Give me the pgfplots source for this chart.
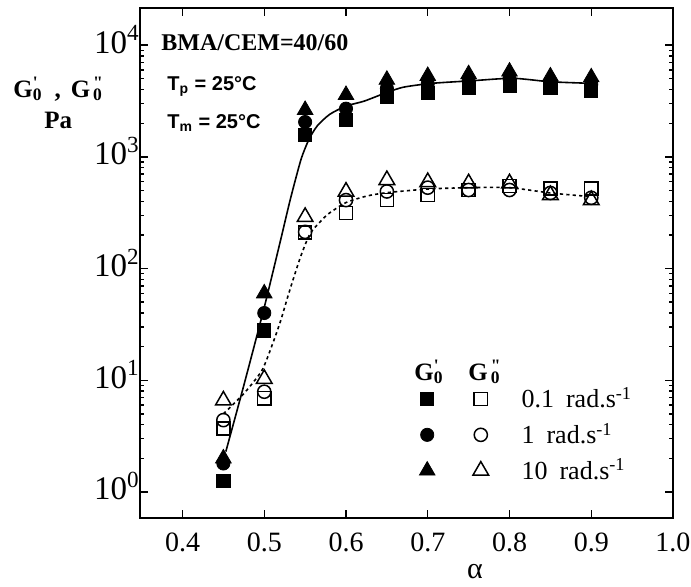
\documentclass[border=0pt]{standalone}
\usepackage{pgfplots}
\pgfplotsset{compat=1.18}
\usepackage{fontspec}
\setmainfont{Liberation Serif}
\newfontfamily\arialfont{Liberation Sans}
\newcommand{\Gone}{G\rlap{\textsuperscript{\textquotesingle}}\textsubscript{0}}
\newcommand{\Gtwo}{G\rlap{\textsuperscript{\,\textquotedbl}}\textsubscript{\,0}}

\pgfplotstableread{
a    Gp01   Gp1    Gp10   Gpp01  Gpp1  Gpp10
0.45 1.25   1.8    2.0    3.7    4.4   6.6
0.50 28     40     60     6.9    7.9   10.3
0.55 1570   2050   2630   210    213   290
0.60 2150   2700   3580   315    410   488
0.65 3450   4100   4900   410    490   620
0.70 3750   4500   5300   455    530   595
0.75 4150   4800   5500   505    505   580
0.80 4300   5050   5800   550    505   580
0.85 4150   4650   5250   520    475   455
0.90 3900   4450   5150   520    430   410
}\data

\begin{document}
\begin{tikzpicture}
\useasboundingbox (0,0) rectangle (345.5pt,293pt);
\begin{axis}[
  at={(70pt,34pt)}, anchor=south west,
  scale only axis, width=266.5pt, height=255pt,
  ymode=log,
  xmin=0.348, xmax=1.0, ymin=0.585, ymax=21500,
  xtick={0.4,0.5,0.6,0.7,0.8,0.9,1.0},
  xticklabels={0.4,0.5,0.6,0.7,0.8,0.9,1.0},
  ytick={1,10,100,1000,10000},
  yticklabels={10\textsuperscript{0},10\textsuperscript{1},10\textsuperscript{2},10\textsuperscript{3},10\textsuperscript{4}},
  tick align=inside,
  major tick length=4pt, minor tick length=2pt,
  axis line style={line width=1pt},
  every tick/.append style={black, line width=0.7pt},
  xticklabel style={font=\fontsize{14}{14}\selectfont, inner sep=0pt, yshift=-7pt},
  yticklabel style={font=\fontsize{16.5}{16.5}\selectfont, anchor=base east, inner sep=0pt, yshift=-4pt},
  legend columns=2,
  legend cell align=left,
  legend style={draw=none, fill=none, at={(0.5235,0.265)}, anchor=north west,
    inner sep=0pt, row sep=2pt, font=\fontsize{13}{14}\selectfont,
    nodes={inner sep=2pt},
    /tikz/every even column/.append style={column sep=15pt}},
]
\addplot[black, line width=0.8pt, smooth, tension=0.4, forget plot] coordinates {
(0.453,2.3) (0.475,9) (0.5,45) (0.52,180) (0.532,420) (0.545,950) (0.555,1450)
(0.565,1900) (0.58,2400) (0.6,2850) (0.622,3150) (0.647,3700) (0.67,4200)
(0.705,4550) (0.754,4800) (0.804,5050) (0.85,4700) (0.9,4550)};
\addplot[black, line width=0.8pt, dash pattern=on 1.6pt off 1.6pt, smooth, tension=0.4, forget plot] coordinates {
(0.45,5.0) (0.475,7.6) (0.497,12.2) (0.51,21) (0.52,34) (0.53,60) (0.544,125)
(0.556,205) (0.57,270) (0.58,315) (0.6,390) (0.625,445) (0.65,478) (0.7,515)
(0.75,530) (0.8,530) (0.85,475) (0.9,440)};

\addplot[only marks, mark=square*, mark size=3.3pt, black, mark options={fill=black}] table[x=a,y=Gp01] {\data};
\addlegendentry{}
\addplot[only marks, mark=square, mark size=3.3pt, black, mark options={line width=0.75pt}] table[x=a,y=Gpp01] {\data};
\addlegendentry{\hspace*{14.5pt}0.1\hspace{6pt}rad.s\textsuperscript{-1}}
\addplot[only marks, mark=*, mark size=3.3pt, black, mark options={fill=black}] table[x=a,y=Gp1] {\data};
\addlegendentry{}
\addplot[only marks, mark=o, mark size=3.3pt, black, mark options={line width=0.75pt}] table[x=a,y=Gpp1] {\data};
\addlegendentry{\hspace*{14.5pt}1\hspace{6pt}rad.s\textsuperscript{-1}}
\addplot[only marks, mark=triangle*, mark size=4.5pt, black, mark options={fill=black}] table[x=a,y=Gp10] {\data};
\addlegendentry{}
\addplot[only marks, mark=triangle, mark size=4.5pt, black, mark options={line width=0.75pt}] table[x=a,y=Gpp10] {\data};
\addlegendentry{\hspace*{14.5pt}10\hspace{6pt}rad.s\textsuperscript{-1}}
\end{axis}

\node[anchor=base west, inner sep=0pt, font=\bfseries\fontsize{12.5}{14}\selectfont] at (6.5pt,244.5pt) {\Gone\hspace{6pt},\hspace{5pt}\Gtwo};
\node[anchor=base west, inner sep=0pt, font=\bfseries\fontsize{12.5}{14}\selectfont] at (22pt,229pt) {Pa};
\node[anchor=base west, inner sep=0pt, font=\bfseries\fontsize{12}{14}\selectfont] at (80.5pt,268pt) {BMA/CEM=40/60};
\node[anchor=base west, inner sep=0pt, font=\arialfont\bfseries\fontsize{10}{12}\selectfont] at (83.5pt,248pt) {T\textsubscript{p} = 25°C};
\node[anchor=base west, inner sep=0pt, font=\arialfont\bfseries\fontsize{10}{12}\selectfont] at (83.5pt,229pt) {T\textsubscript{m} = 25°C};
\node[anchor=base west, inner sep=0pt, font=\bfseries\fontsize{12.5}{14}\selectfont] at (207pt,103pt) {\Gone};
\node[anchor=base west, inner sep=0pt, font=\bfseries\fontsize{12.5}{14}\selectfont] at (234pt,103pt) {\Gtwo};
\node[inner sep=0pt, font=\fontsize{15}{15}\selectfont] at (237.5pt,7pt) {α};
\end{tikzpicture}
\end{document}
